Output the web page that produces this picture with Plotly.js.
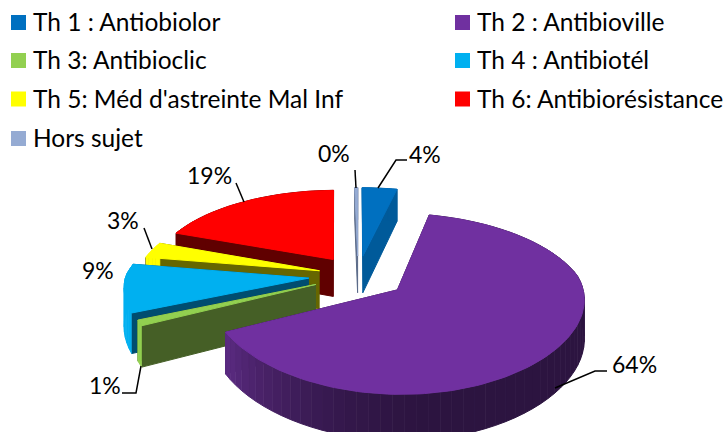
<!DOCTYPE html>
<html><head><meta charset="utf-8">
<script src="https://cdn.plot.ly/plotly-3.0.1.min.js"></script>
<style>html,body{margin:0;padding:0;background:#fff}#c{width:728px;height:432px}</style>
</head><body><div id="c"></div>
<script>
const categories = ['Th 1 : Antiobiolor','Th 2 : Antibioville','Th 3: Antibioclic','Th 4 : Antibiotél',"Th 5: Méd d'astreinte Mal Inf",'Th 6: Antibiorésistance','Hors sujet'];
const values = [3.6, 64, 1, 9, 3, 19, 0.3];
const colors = ['#0070C0','#7030A0','#92D050','#00B0F0','#FFFF00','#FF0000','#95ABD3'];
const wallColors = ['#005A9A','#2C1440','#455F26','#004D70','#666600','#600000','#5A6A88'];
const pulls = [0.24,0.27,0.25,0.27,0.22,0.24,0.24];
const drawOrder = [6,0,5,4,3,2,1];

// projection of the tilted, exploded pie
const cx=358, cy=275.5, rx=183, ry=84, k=0.15, depth=38;
const total = values.reduce((a,b)=>a+b,0);
function proj(u,v,z){const w=1+k*v, wx=v>0?w:1+0.6*k*v;return [cx+rx*u/wx, cy-ry*v/w+z*depth/w];}
const angles=[];let acc=0;
values.forEach(val=>{const a0=acc;acc+=val/total*2*Math.PI;angles.push([a0,acc]);});

const traces=[];
function poly(pts,color,name){
  traces.push({type:'scatter',mode:'lines',x:pts.map(p=>p[0]),y:pts.map(p=>p[1]),fill:'toself',
    fillcolor:color,line:{width:1,color:color},hoverinfo:'text',text:name,showlegend:false});
}
function mix(a,b,t){const pa=[1,3,5].map(i=>parseInt(a.substr(i,2),16)),pb=[1,3,5].map(i=>parseInt(b.substr(i,2),16));
  return 'rgb('+pa.map((c,i)=>Math.round(c+(pb[i]-c)*t)).join(',')+')';}

drawOrder.forEach(i=>{
  const [a0,a1]=angles[i], mid=(a0+a1)/2;
  const ou=pulls[i]*Math.sin(mid), ov=pulls[i]*Math.cos(mid);
  const pt=(a,z)=>proj(ou+Math.sin(a),ov+Math.cos(a),z);
  const apex=z=>proj(ou,ov,z);
  const name=categories[i];
  // radial faces
  poly([apex(0),pt(a1,0),pt(a1,1),apex(1)],wallColors[i],name);
  poly([apex(0),pt(a0,0),pt(a0,1),apex(1)],wallColors[i],name);
  // outer wall in bands, visible only on the near half
  const n=Math.max(2,Math.ceil((a1-a0)/0.06));
  for(let s=0;s<n;s++){
    const b0=a0+(a1-a0)*s/n,b1=a0+(a1-a0)*(s+1)/n;
    let col=wallColors[i];
    if(i===1){col=mix('#2C1440','#5E2C86',Math.pow(Math.max(0,(b0-Math.PI*0.95)/(a1-Math.PI*0.95)),1.6));}
    if(i!==1&&i!==0&&i!==6&&i!==5) col=colors[i];
    poly([pt(b0,0),pt(b1,0),pt(b1,1),pt(b0,1)],col,name);
  }
  // top face
  const top=[apex(0)];
  const m=Math.max(2,Math.ceil((a1-a0)/0.03));
  for(let s=0;s<=m;s++) top.push(pt(a0+(a1-a0)*s/m,0));
  top.push(apex(0));
  poly(top,colors[i],name);
});

const FONT='Lato', FS=24.5, LS=23;
const legendX=[11,455], legendY=[22.5,60.5,99,138.5];
const shapes=[],annotations=[];
categories.forEach((c,i)=>{
  const col=i%2, row=Math.floor(i/2), x=legendX[col], y=legendY[row];
  shapes.push({type:'rect',xref:'x',yref:'y',x0:x,x1:x+15,y0:y-7.5,y1:y+7.5,fillcolor:colors[i],line:{width:0},layer:'above'});
  annotations.push({xref:'x',yref:'y',x:x+20,y:y-1,text:c,showarrow:false,xanchor:'left',yanchor:'middle',font:{family:FONT,size:FS,color:'#000'}});
});
// data labels, order as categories
const labelPos=[[425,154],[634,364],[105,385],[98,270],[123,220],[209,175],[334,153]];
values.forEach((v,i)=>{
  annotations.push({xref:'x',yref:'y',x:labelPos[i][0],y:labelPos[i][1],text:Math.round(v/total*100)+'%',showarrow:false,xanchor:'center',yanchor:'middle',font:{family:FONT,size:LS,color:'#000'}});
});
const leaders=[[[378,188],[390,170],[396,160],[407,160]],[[555,388],[595,371],[607,371]],[[141,366],[136,393],[122,393]],[[144,228],[152,249]],[[236,183],[244,202]],[[355,170],[356,188]]];
leaders.forEach(l=>{
  traces.push({type:'scatter',mode:'lines',x:l.map(p=>p[0]),y:l.map(p=>p[1]),line:{color:'#000',width:1.5},hoverinfo:'skip',showlegend:false});
});

Plotly.newPlot('c',traces,{
  width:728,height:432,margin:{l:0,r:0,t:0,b:0},paper_bgcolor:'#fff',plot_bgcolor:'#fff',showlegend:false,
  xaxis:{range:[0,728],visible:false,fixedrange:true},
  yaxis:{range:[432,0],visible:false,fixedrange:true},
  shapes,annotations,font:{family:FONT}
},{displayModeBar:false});
</script></body></html>
